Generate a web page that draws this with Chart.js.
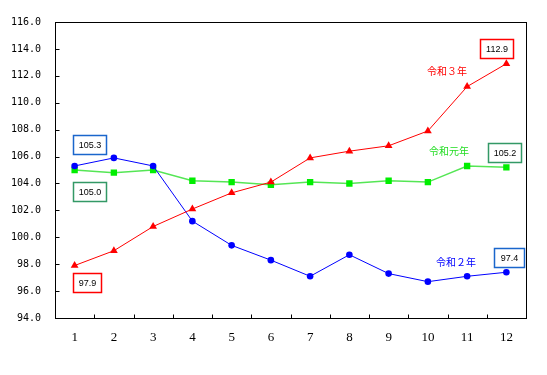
<!DOCTYPE html>
<html>
<head>
<meta charset="utf-8">
<script src="https://cdn.jsdelivr.net/npm/chart.js@4/dist/chart.umd.min.js"></script>
<style>
  html, body { margin: 0; padding: 0; background: #fff; }
  #chart { display: block; }
</style>
</head>
<body>
<canvas id="chart" width="547" height="375"></canvas>
<script>
// ===== DATA =====
const months = ['1', '2', '3', '4', '5', '6', '7', '8', '9', '10', '11', '12'];

const reiwa3 = [97.9, 99.0, 100.8, 102.1, 103.3, 104.1, 105.9, 106.4, 106.8, 107.9, 111.2, 112.9];
const reiwa2 = [105.3, 105.9, 105.3, 101.2, 99.4, 98.3, 97.1, 98.7, 97.3, 96.7, 97.1, 97.4];
const reiwa1 = [105.0, 104.8, 105.0, 104.2, 104.1, 103.9, 104.1, 104.0, 104.2, 104.1, 105.3, 105.2];

const seriesNames = ['令和３年', '令和２年', '令和元年'];

const yMin = 94;
const yMax = 116;
const yStep = 2;

// Colors
const redColor = '#ff0000';
const blueColor = '#0000ff';
const greenColor = '#00ee00';
const greenLine = '#55e655';

// ===== PLUGIN: frame, inner ticks, value boxes, series names =====
const decorPlugin = {
    id: 'decor',
    afterDraw(chart) {
        const ctx = chart.ctx;
        const area = chart.chartArea;
        const xScale = chart.scales.x;
        const yScale = chart.scales.y;

        ctx.save();
        ctx.strokeStyle = '#000';
        ctx.lineWidth = 1;

        // Frame
        const l = Math.round(area.left) + 0.5;
        const r = Math.round(area.right) + 0.5;
        const t = Math.round(area.top) + 0.5;
        const b = Math.round(area.bottom) + 0.5;
        ctx.strokeRect(l, t, r - l, b - t);

        // Y ticks (inside)
        ctx.beginPath();
        yScale.ticks.forEach((tick) => {
            const y = Math.round(yScale.getPixelForValue(tick.value)) + 0.5;
            ctx.moveTo(l, y);
            ctx.lineTo(l + 4, y);
        });
        // X ticks between categories (inside)
        for (let i = 0; i < months.length - 1; i++) {
            const x = Math.round((xScale.getPixelForValue(i) + xScale.getPixelForValue(i + 1)) / 2) + 0.5;
            ctx.moveTo(x, b);
            ctx.lineTo(x, b - 4);
        }
        ctx.stroke();

        // Value boxes
        const pt = (ds, i) => chart.getDatasetMeta(ds).data[i];
        const last = months.length - 1;
        const boxes = [
            { p: pt(1, 0), text: reiwa2[0].toFixed(1), color: '#1a66cc', dx: -2, dy: -31, w: 33 },
            { p: pt(2, 0), text: reiwa1[0].toFixed(1), color: '#339966', dx: -2, dy: 12, w: 33 },
            { p: pt(0, 0), text: reiwa3[0].toFixed(1), color: redColor, dx: -2, dy: 7, w: 28 },
            { p: pt(0, last), text: reiwa3[last].toFixed(1), color: redColor, dx: -26, dy: -25, w: 33 },
            { p: pt(2, last), text: reiwa1[last].toFixed(1), color: '#339966', dx: -18, dy: -24, w: 33 },
            { p: pt(1, last), text: reiwa2[last].toFixed(1), color: '#1a66cc', dx: -12, dy: -24, w: 30 }
        ];
        ctx.font = "9px 'Liberation Sans', Arial, sans-serif";
        ctx.textAlign = 'center';
        ctx.textBaseline = 'middle';
        boxes.forEach((bx) => {
            const x0 = Math.round(bx.p.x + bx.dx) + 0.5;
            const y0 = Math.round(bx.p.y + bx.dy) + 0.5;
            const h = 19;
            ctx.fillStyle = '#fff';
            ctx.fillRect(x0, y0, bx.w, h);
            ctx.strokeStyle = bx.color;
            ctx.lineWidth = 1.5;
            ctx.strokeRect(x0, y0, bx.w, h);
            ctx.fillStyle = '#000';
            ctx.fillText(bx.text, x0 + bx.w / 2, y0 + h / 2 + 0.5);
        });

        // Series names
        ctx.font = "10px 'Noto Sans CJK JP', sans-serif";
        ctx.textAlign = 'left';
        const names = [
            { text: seriesNames[0], color: redColor, x: 427, y: 71 },
            { text: seriesNames[2], color: '#22dd22', x: 429, y: 151 },
            { text: seriesNames[1], color: blueColor, x: 436, y: 262 }
        ];
        names.forEach((n) => {
            ctx.fillStyle = n.color;
            ctx.fillText(n.text, n.x, n.y);
        });

        ctx.restore();
    }
};

// ===== CHART =====
const chartElement = document.getElementById('chart');

new Chart(chartElement, {
    type: 'line',
    data: {
        labels: months,
        datasets: [
            {
                label: seriesNames[0],
                data: reiwa3,
                borderColor: redColor,
                backgroundColor: redColor,
                borderWidth: 1,
                pointStyle: 'triangle',
                pointRadius: 4.5,
                pointBorderWidth: 0,
                tension: 0
            },
            {
                label: seriesNames[1],
                data: reiwa2,
                borderColor: blueColor,
                backgroundColor: blueColor,
                borderWidth: 1,
                pointStyle: 'circle',
                pointRadius: 3.3,
                pointBorderWidth: 0,
                tension: 0
            },
            {
                label: seriesNames[2],
                data: reiwa1,
                borderColor: greenLine,
                backgroundColor: greenColor,
                borderWidth: 1.5,
                pointStyle: 'rect',
                pointRadius: 4.5,
                pointBorderWidth: 0,
                tension: 0
            }
        ]
    },
    options: {
        responsive: false,
        animation: false,
        layout: {
            padding: { top: 22, right: 21, left: 0, bottom: 0 }
        },
        plugins: {
            legend: { display: false },
            tooltip: { enabled: false }
        },
        scales: {
            x: {
                offset: true,
                grid: { display: false },
                border: { display: false },
                ticks: {
                    color: '#000',
                    padding: 4,
                    maxRotation: 0,
                    font: { family: "'Liberation Serif', serif", size: 13 }
                },
                afterFit: (scale) => { scale.height = 57; }
            },
            y: {
                min: yMin,
                max: yMax,
                grid: { display: false },
                border: { display: false },
                ticks: {
                    stepSize: yStep,
                    color: '#000',
                    padding: 6,
                    font: { family: "'DejaVu Sans Mono', monospace", size: 10 },
                    callback: (value) => value.toFixed(1)
                },
                afterFit: (scale) => { scale.width = 55; }
            }
        }
    },
    plugins: [decorPlugin]
});
</script>
</body>
</html>
